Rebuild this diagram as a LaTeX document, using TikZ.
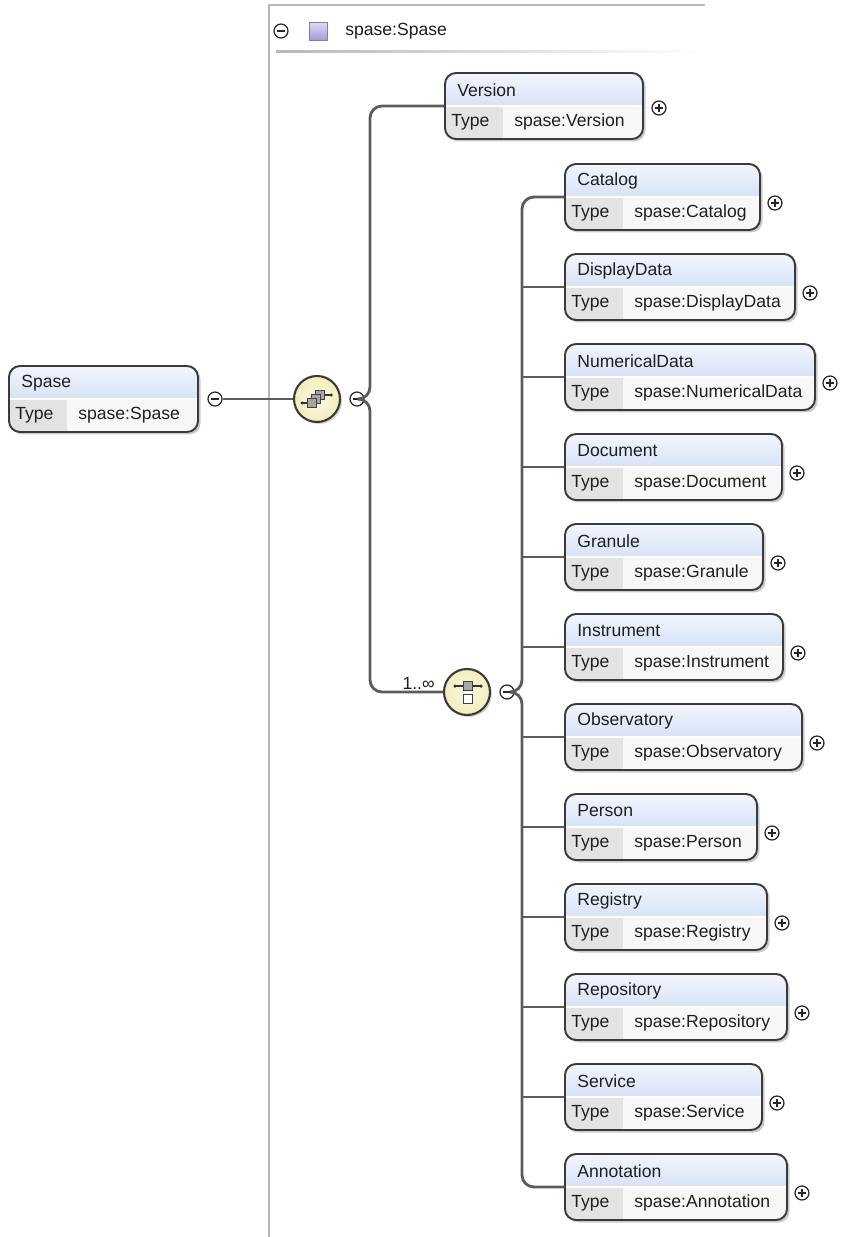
\documentclass[tikz,border=0pt]{standalone}
\usepackage{fontspec}
\setmainfont{Liberation Sans}
\usetikzlibrary{calc,shadows,positioning}

\definecolor{hdtop}{HTML}{F2F6FD}
\definecolor{hdbot}{HTML}{BACFEE}
\definecolor{boxline}{HTML}{3A3A3A}
\definecolor{typecell}{HTML}{E3E3E3}
\definecolor{valcell}{HTML}{F7F7F7}
\definecolor{connline}{HTML}{5C5C5C}
\definecolor{cream}{HTML}{F2EDB8}
\definecolor{lavtop}{HTML}{E2DBF5}
\definecolor{lavbot}{HTML}{A898D8}
\definecolor{frameline}{HTML}{B8B8B8}

\tikzset{
	elem box/.style={draw=boxline, line width=1.1pt, rounded corners=0.22cm, fill=valcell, minimum height=1.32cm, inner sep=0pt,
		drop shadow={shadow xshift=0.05cm, shadow yshift=-0.05cm, fill=black!45, opacity=0.45},
		path picture={
			\fill[sharp corners, top color=hdtop, bottom color=hdbot] (path picture bounding box.north west) rectangle (path picture bounding box.east);
			\fill[sharp corners, typecell] (path picture bounding box.south west) rectangle ([xshift=1.16cm]path picture bounding box.west);
			\draw[sharp corners, white, line width=0.8pt] (path picture bounding box.west) -- (path picture bounding box.east);
		}},
	elem text/.style={anchor=west, inner sep=0pt, font=\fontsize{10}{12}\selectfont, text=black!88},
	model circ/.style={circle, draw=boxline, line width=1.2pt, minimum size=0.92cm, inner sep=0pt, inner color=cream!30!white, outer color=cream,
		drop shadow={shadow xshift=0.04cm, shadow yshift=-0.04cm, fill=black!40, opacity=0.4}},
	btn/.style={circle, draw=black!85, line width=0.7pt, fill=white, minimum size=0.28cm, inner sep=0pt},
	minus btn/.style={btn, path picture={
			\draw[line width=0.8pt] ([xshift=-0.08cm]path picture bounding box.center) -- ([xshift=0.08cm]path picture bounding box.center);}},
	plus btn/.style={btn, path picture={
			\draw[line width=0.8pt] ([xshift=-0.08cm]path picture bounding box.center) -- ([xshift=0.08cm]path picture bounding box.center);
			\draw[line width=0.8pt] ([yshift=-0.08cm]path picture bounding box.center) -- ([yshift=0.08cm]path picture bounding box.center);}},
	conn/.style={draw=connline, line width=1.6pt, rounded corners=0.24cm},
	icon sq/.style={draw=black!75, line width=0.6pt, fill=black!35},
	icon line/.style={draw=black!80, line width=0.8pt},
	frame/.style={draw=frameline, line width=1pt},
}

% name, left x, divider y, width, title, type
\newcommand{\elem}[6]{%
	\node[elem box, minimum width=#4*0.02cm] (#1) at (#2+#4/2,#3) {};
	\node[elem text] (#1 title) at (#2+12,#3-16) {#5};
	\node[elem text] (#1 key) at (#2+6,#3+16) {Type};
	\node[elem text] (#1 type) at (#2+69,#3+16) {#6};
}

\begin{document}
\begin{tikzpicture}[x=0.02cm, y=-0.02cm]
	
	\fill[white] (0,0) rectangle (844,1237);
	\useasboundingbox (0,0) rectangle (844,1237);
	
	% frame of the type
	\draw[frame] (269,1237) -- (269,5) -- (705,5);
	\shade[left color=black!28, right color=white] (276,51) rectangle (705,53);
	\node[minus btn] (top minus) at (281,31) {};
	\node[draw=lavbot!80!black, line width=0.5pt, top color=lavtop, bottom color=lavbot, minimum size=0.36cm, inner sep=0pt] (type icon) at (318,31) {};
	\node[elem text] (type name) at (345,31) {spase:Spase};
	
	\elem{spase}{9}{399}{189}{Spase}{spase:Spase}
	\node[minus btn] (spase minus) at (215,399) {};
	
	\node[model circ] (seq) at (317,399) {};
	\node[minus btn] (seq minus) at (357,399) {};
	
	\elem{version}{445}{106}{198}{Version}{spase:Version}
	
	\node[model circ] (choice) at (467,692) {};
	\node[minus btn] (choice minus) at (507,692) {};
	\node[elem text, anchor=south east] (mult) at ($(choice.west)+(-8,-2)$) {1..∞};
	
	\elem{catalog}{565}{197}{195}{Catalog}{spase:Catalog}
	\elem{displaydata}{565}{287}{230}{DisplayData}{spase:DisplayData}
	\elem{numericaldata}{565}{377}{250}{NumericalData}{spase:NumericalData}
	\elem{document}{565}{467}{217}{Document}{spase:Document}
	\elem{granule}{565}{557}{198}{Granule}{spase:Granule}
	\elem{instrument}{565}{647}{218}{Instrument}{spase:Instrument}
	\elem{observatory}{565}{737}{237}{Observatory}{spase:Observatory}
	\elem{person}{565}{827}{192}{Person}{spase:Person}
	\elem{registry}{565}{917}{202}{Registry}{spase:Registry}
	\elem{repository}{565}{1007}{222}{Repository}{spase:Repository}
	\elem{service}{565}{1097}{197}{Service}{spase:Service}
	\elem{annotation}{565}{1187}{222}{Annotation}{spase:Annotation}
	
	\node[plus btn] (version plus) at ($(version.east)+(15,2)$) {};
	\node[plus btn] (catalog plus) at ($(catalog.east)+(14,6)$) {};
	\node[plus btn] (displaydata plus) at ($(displaydata.east)+(14,6)$) {};
	\node[plus btn] (numericaldata plus) at ($(numericaldata.east)+(14,6)$) {};
	\node[plus btn] (document plus) at ($(document.east)+(14,6)$) {};
	\node[plus btn] (granule plus) at ($(granule.east)+(14,6)$) {};
	\node[plus btn] (instrument plus) at ($(instrument.east)+(14,6)$) {};
	\node[plus btn] (observatory plus) at ($(observatory.east)+(14,6)$) {};
	\node[plus btn] (person plus) at ($(person.east)+(14,6)$) {};
	\node[plus btn] (registry plus) at ($(registry.east)+(14,6)$) {};
	\node[plus btn] (repository plus) at ($(repository.east)+(14,6)$) {};
	\node[plus btn] (service plus) at ($(service.east)+(14,6)$) {};
	\node[plus btn] (annotation plus) at ($(annotation.east)+(14,6)$) {};
	
	% sequence icon
	\draw[icon line] ($(seq)+(-15,4)$) -- ($(seq)+(-9.5,4)$);
	\draw[icon line] ($(seq)+(7.5,-4)$) -- ($(seq)+(14,-4)$);
	\fill[black!80] ($(seq)+(-15,4)$) circle (0.035cm);
	\fill[black!80] ($(seq)+(14,-4)$) circle (0.035cm);
	\draw[icon sq] ($(seq)+(-1.5,-8.5)$) rectangle ++(9,9);
	\draw[icon sq] ($(seq)+(-5.5,-4.5)$) rectangle ++(9,9);
	\draw[icon sq] ($(seq)+(-9.5,-0.5)$) rectangle ++(9,9);
	
	% choice icon
	\draw[icon line] ($(choice)+(-12,-6)$) -- ($(choice)+(14,-6)$);
	\fill[black!80] ($(choice)+(-12,-6)$) circle (0.035cm);
	\fill[black!80] ($(choice)+(14,-6)$) circle (0.035cm);
	\draw[icon sq] ($(choice)+(-3.5,-10.5)$) rectangle ++(9,9);
	\draw[icon sq, fill=white] ($(choice)+(-3.5,2.5)$) rectangle ++(9,9);
	
	% connectors
	\draw[conn] (spase minus) -- (seq);
	\draw[conn] (seq minus) -- ++(13,0) |- (version);
	\draw[conn] (seq minus) -- ++(13,0) |- (choice);
	
	\coordinate (bus) at (522,692);
	\draw[conn] (choice minus) -- (bus) |- (catalog);
	\draw[conn] (choice minus) -- (bus) |- (annotation);
	\draw[conn] (displaydata.west -| bus) -- (displaydata);
	\draw[conn] (numericaldata.west -| bus) -- (numericaldata);
	\draw[conn] (document.west -| bus) -- (document);
	\draw[conn] (granule.west -| bus) -- (granule);
	\draw[conn] (instrument.west -| bus) -- (instrument);
	\draw[conn] (observatory.west -| bus) -- (observatory);
	\draw[conn] (person.west -| bus) -- (person);
	\draw[conn] (registry.west -| bus) -- (registry);
	\draw[conn] (repository.west -| bus) -- (repository);
	\draw[conn] (service.west -| bus) -- (service);
\end{tikzpicture}
\end{document}
